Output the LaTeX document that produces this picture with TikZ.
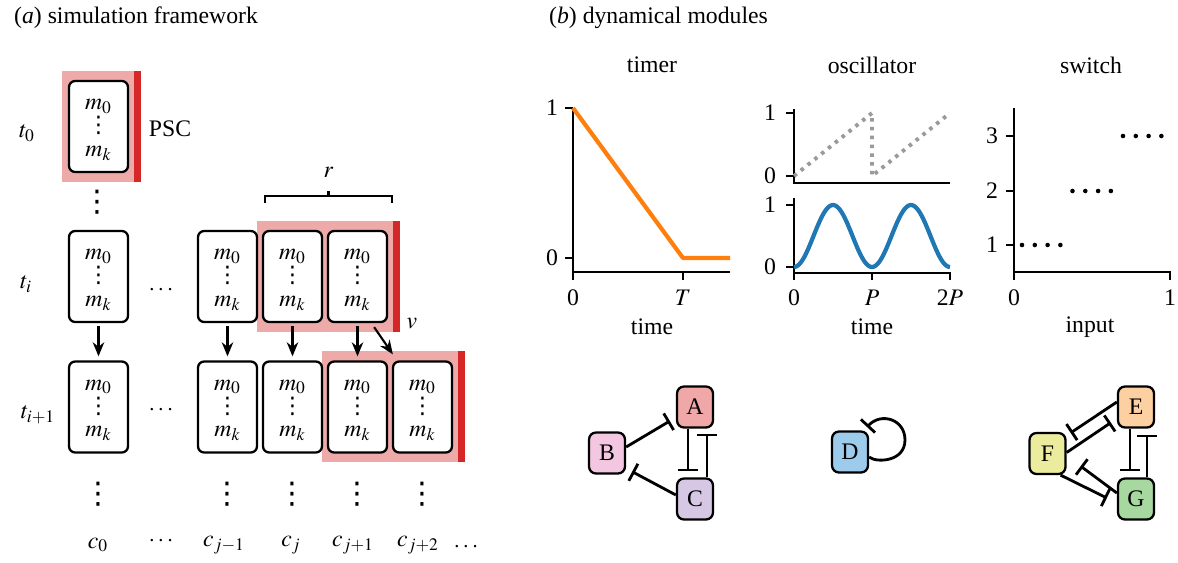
\documentclass[tikz,border=0pt]{standalone}
\usepackage{mathptmx}
\usepackage{fontspec}
\setmainfont{Liberation Serif}
\newfontfamily\dejavu{DejaVu Sans}
\usetikzlibrary{positioning,arrows.meta,calc}

\definecolor{pscfill}{HTML}{EEA9A9}
\definecolor{pscbar}{HTML}{D62728}
\definecolor{timerorange}{HTML}{FF7F0E}
\definecolor{oscblue}{HTML}{1F77B4}
\definecolor{sawgray}{HTML}{9A9A9A}
\definecolor{geneA}{HTML}{EFA7A7}
\definecolor{geneB}{HTML}{F3C6E1}
\definecolor{geneC}{HTML}{D6C8E4}
\definecolor{geneD}{HTML}{9DCBEC}
\definecolor{geneE}{HTML}{FDD0A2}
\definecolor{geneF}{HTML}{ECEC9E}
\definecolor{geneG}{HTML}{A6D8A0}

\newcommand{\vdt}{{\dejavu\fontsize{17}{17}\selectfont ⋮}}
\newcommand{\vdc}{{\dejavu\fontsize{13}{13}\selectfont ⋮}}
\newcommand{\mcol}{\rule{0pt}{9.6pt}$m_0$\\[-1.7pt]\vdc\\[-1.7pt]$m_k$}

\begin{document}
\begin{tikzpicture}[x=0.02cm,y=-0.02cm,
    cell/.style={draw,line width=1.3pt,rounded corners=3.5pt,fill=white,
      minimum width=1.18cm,minimum height=1.82cm,inner sep=0pt,align=center},
    arr/.style={line width=1.2pt,-{Stealth[length=8pt,width=6.5pt]}},
    inh/.style={line width=1.6pt,-{Bar[width=11pt]}},
    gene/.style={draw,line width=1.3pt,rounded corners=4pt,
      minimum width=0.72cm,minimum height=0.82cm,inner sep=0pt},
    axis/.style={line width=1.1pt},
    every node/.style={font=\rmfamily\fontsize{13.5}{15}\selectfont}]
  \useasboundingbox (0,0) rectangle (1178,562);

  \node[anchor=west] (titA) at (8,18) {(\textit{a}) simulation framework};
  \node[anchor=west] (titB) at (543,18) {(\textit{b}) dynamical modules};

  \fill[pscfill] (62,71) rectangle (134,182);
  \fill[pscbar] (134,71) rectangle (141,182);
  \fill[pscfill] (257,221) rectangle (393,332);
  \fill[pscbar] (393,221) rectangle (400,332);
  \fill[pscfill] (322,351) rectangle (458,462);
  \fill[pscbar] (458,351) rectangle (465,462);

  \node[cell] (c00) at (98.5,126.5) {\mcol};
  \node (psc) at (170,129) {PSC};
  \node (t0) at (27,133) {$t_0$};
  \node (ti) at (26,284) {$t_i$};
  \node (tj) at (38,415) {$t_{i+1}$};
  \node (vd0) at (97,202) {\vdt};

  \node[cell] (ci1) at (98.5,276.5) {\mcol};
  \node[cell] (cj1) at (98.5,407) {\mcol};
  \foreach \n/\x in {2/227.5,3/292.5,4/357.5}{
    \node[cell] (ci\n) at (\x,276.5) {\mcol};
    \node[cell] (cj\n) at (\x,407) {\mcol};
  }
  \node[cell] (cj5) at (422.5,407) {\mcol};

  \node (hd1) at (161,290) {$\cdots$};
  \node (hd2) at (161,410) {$\cdots$};

  \foreach \n in {1,...,4}
    \draw[arr] (ci\n.south) ++(0,3) -- ($(cj\n.north)+(0,-4)$);
  \draw[arr] ($(ci4.south east)+(-14,4)$) -- ($(cj5.north west)+(1,-6)$);
  \node (v) at (412,324) {$v$};

  \draw[line width=1.2pt] (265,203) -- (265,196) -- (392,196) -- (392,203);
  \draw[line width=1.2pt] (328.5,196) -- (328.5,191);
  \node (r) at (328.5,172) {$r$};

  \foreach \n/\x in {1/98.5,2/227.5,3/292.5,4/357.5,5/422.5}
    \node (vb\n) at (\x,494) {\vdt};
  \node (c0) at (98,545) {$c_0$};
  \node (hd3) at (161,541) {$\cdots$};
  \node (c1) at (224,545) {$c_{j-1}$};
  \node (c2) at (291,545) {$c_j$};
  \node (c3) at (353,545) {$c_{j+1}$};
  \node (c4) at (418,545) {$c_{j+2}$};
  \node (hd4) at (466,547) {$\cdots$};

  \node (timer) at (652,65) {timer};
  \draw[axis] (573,108) -- (573,280);
  \draw[axis] (573,272) -- (730,272);
  \draw[axis] (565,108) -- (573,108) (565,258) -- (573,258) (683,272) -- (683,280);
  \draw[timerorange,line width=2.4pt,line join=round] (573,108) -- (683,258) -- (730,258);
  \node (ty1) at (552,108) {1};
  \node (ty0) at (552,258) {0};
  \node (tx0) at (573,298) {0};
  \node (txT) at (683,298) {$T$};
  \node (tlab) at (652,327) {time};

  \node (osc) at (872,65) {oscillator};
  \draw[axis] (794,109) -- (794,183) -- (950,183);
  \draw[axis] (786,113) -- (794,113) (786,176) -- (794,176);
  \draw[sawgray,line width=2.2pt,dash pattern=on 2pt off 3pt]
    (794,176) -- (872,113) -- (872,176) -- (950,113);
  \node (oy1) at (770,113) {1};
  \node (oy0) at (770,176) {0};
  \draw[axis] (794,198) -- (794,280);
  \draw[axis] (794,273) -- (950,273) -- (950,280) (872,273) -- (872,280);
  \draw[axis] (786,205) -- (794,205) (786,267) -- (794,267);
  \draw[oscblue,line width=2.4pt,domain=0:156,samples=90,smooth]
    plot ({794+\x},{267-31*(1-cos(\x*4.6154))});
  \node (ly1) at (770,205) {1};
  \node (ly0) at (770,267) {0};
  \node (ox0) at (794,298) {0};
  \node (oxP) at (872,298) {$P$};
  \node (ox2P) at (950,298) {2$P$};
  \node (olab) at (872,327) {time};

  \node (sw) at (1091,65) {switch};
  \draw[axis] (1014,108) -- (1014,280);
  \draw[axis] (1014,272) -- (1170,272) -- (1170,280);
  \foreach \lv/\yy in {0/245,1/191,2/136}{
    \draw[axis] (1006,\yy) -- (1014,\yy);
    \node (sy\lv) at (992,\yy) {\the\numexpr\lv+1\relax};
    \foreach \k in {0,...,3}
      \fill ({1022+50.5*\lv+12.8*\k},\yy) circle (1.3pt);
  }
  \node (sx0) at (1014,298) {0};
  \node (sx1) at (1170,298) {1};
  \node (slab) at (1090,327) {input};

  \node[gene,fill=geneA] (A) at (695,407) {A};
  \node[gene,fill=geneB] (B) at (607,453) {B};
  \node[gene,fill=geneC] (C) at (695,499) {C};
  \draw[inh] ($(B.east)+(0,-6)$) -- ($(A.west)+(-6,14)$);
  \draw[inh] ($(C.west)+(0,-4)$) -- ($(B.south east)+(6,-3)$);
  \draw[inh] ($(A.south)+(-7,0)$) -- ($(C.north)+(-7,-6)$);
  \draw[inh] ($(C.north)+(12,0)$) -- ($(A.south)+(12,5)$);

  \node[gene,fill=geneD] (D) at (850,452) {D};
  \draw[inh] ($(D.east)+(0,5)$) .. controls (876,463) and (905,462) .. (905,440)
    .. controls (905,419) and (881,412) .. (867,427);

  \node[gene,fill=geneE] (E) at (1136,407) {E};
  \node[gene,fill=geneF] (F) at (1047.5,453.5) {F};
  \node[gene,fill=geneG] (G) at (1136,499) {G};
  \draw[inh] ($(E.west)+(0,-5)$) -- ($(F.north east)+(4,1)$);
  \draw[inh] ($(F.east)+(0,-1)$) -- ($(E.south west)+(-6,-6)$);
  \draw[inh] ($(G.west)+(0,-6)$) -- ($(F.south east)+(14,-9)$);
  \draw[inh] ($(F.south east)+(-6,0)$) -- ($(G.west)+(-10,-1)$);
  \draw[inh] ($(E.south)+(-6,0)$) -- ($(G.north)+(-6,-6)$);
  \draw[inh] ($(G.north)+(11,0)$) -- ($(E.south)+(11,6)$);
\end{tikzpicture}
\end{document}
